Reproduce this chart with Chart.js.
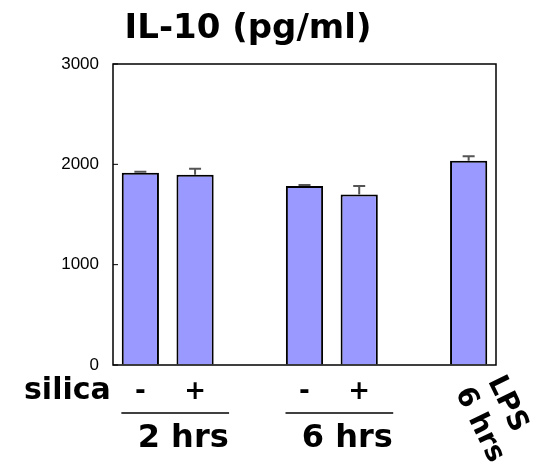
<!DOCTYPE html>
<html>
<head>
<meta charset="utf-8">
<script src="https://cdn.jsdelivr.net/npm/chart.js@4"></script>
<style>
  html, body { margin: 0; padding: 0; background: #fff; }
  #wrap { width: 550px; height: 465px; }
</style>
</head>
<body>
<div id="wrap"><canvas id="barChart1" width="550" height="465"></canvas></div>
<script>
// slots: 2 hrs (-,+), gap, 6 hrs (-,+), gap, LPS 6 hrs
const slots = ['2h-', '2h+', 'gap1', '6h-', '6h+', 'gap2', 'LPS'];
const silicaSigns = ['-', '+', '', '-', '+', '', ''];
const il10 = [1915, 1895, null, 1785, 1700, null, 2035];
const il10Err = [12, 60, null, 10, 85, null, 45];
const yTicks = [0, 1000, 2000, 3000];

const boldFont = '"DejaVu Sans", sans-serif';

const extras = {
  id: 'extras',
  afterDatasetsDraw(chart) {
    const { ctx, chartArea: a, scales: { x, y } } = chart;
    ctx.save();

    // error bars (upper only)
    ctx.strokeStyle = '#555';
    ctx.lineWidth = 2;
    il10.forEach((v, i) => {
      if (v == null) return;
      const px = x.getPixelForValue(i);
      const top = y.getPixelForValue(v + il10Err[i]);
      const base = y.getPixelForValue(v);
      ctx.beginPath();
      ctx.moveTo(px, base);
      ctx.lineTo(px, top);
      ctx.moveTo(px - 6, top);
      ctx.lineTo(px + 6, top);
      ctx.stroke();
    });

    // frame
    ctx.strokeStyle = '#000';
    ctx.lineWidth = 1.5;
    ctx.strokeRect(a.left, a.top, a.right - a.left, a.bottom - a.top);

    // inner y ticks
    ctx.lineWidth = 1;
    yTicks.forEach(t => {
      const py = y.getPixelForValue(t);
      ctx.beginPath();
      ctx.moveTo(a.left, py);
      ctx.lineTo(a.left + 5, py);
      ctx.stroke();
    });

    ctx.fillStyle = '#000';
    ctx.textBaseline = 'alphabetic';

    // title
    ctx.textAlign = 'center';
    ctx.font = 'bold 34px ' + boldFont;
    ctx.fillText('IL-10 (pg/ml)', 248, 38);

    // silica row
    ctx.font = 'bold 30px ' + boldFont;
    ctx.textAlign = 'left';
    ctx.fillText('silica', 24, 399);
    ctx.textAlign = 'center';
    ctx.font = 'bold 26px ' + boldFont;
    silicaSigns.forEach((s, i) => {
      if (!s) return;
      ctx.fillText(s, x.getPixelForValue(i), 399);
    });

    // group lines and labels
    const groups = [['2 hrs', 0, 1], ['6 hrs', 3, 4]];
    ctx.font = 'bold 32px ' + boldFont;
    ctx.lineWidth = 1.5;
    groups.forEach(([lab, i0, i1]) => {
      const l = x.getPixelForValue(i0) - 19;
      const r = x.getPixelForValue(i1) + 34;
      ctx.beginPath();
      ctx.moveTo(l, 413);
      ctx.lineTo(r, 413);
      ctx.stroke();
      ctx.fillText(lab, (l + r) / 2 + 8, 447);
    });

    // rotated LPS label
    ctx.translate(x.getPixelForValue(6) + 19, 381);
    ctx.rotate(64 * Math.PI / 180);
    ctx.textAlign = 'left';
    ctx.font = 'bold 28px ' + boldFont;
    ctx.fillText('LPS', 0, 0);
    ctx.fillText('6 hrs', -4, 34);

    ctx.restore();
  }
};

Chart.defaults.color = '#000';
window.il10Chart = new Chart(
  document.getElementById('barChart1'),
  {
    type: 'bar',
    data: {
      labels: slots,
      datasets: [
        {
          label: 'IL-10',
          data: il10,
          backgroundColor: '#9999ff',
          borderColor: '#000',
          borderWidth: 2,
          categoryPercentage: 1,
          barPercentage: 0.68
        }
      ]
    },
    options: {
      responsive: false,
      animation: false,
      layout: { padding: { left: 0, top: 64, right: 54, bottom: 100 } },
      plugins: {
        legend: { display: false },
        tooltip: { enabled: false }
      },
      scales: {
        x: {
          grid: { display: false },
          border: { display: false },
          ticks: { display: false },
          afterFit: (axis) => { axis.height = 0; }
        },
        y: {
          min: 0,
          max: 3000,
          afterFit: (axis) => { axis.width = 113; },
          afterBuildTicks: (axis) => { axis.ticks = yTicks.map(v => ({ value: v })); },
          grid: { drawOnChartArea: false, drawTicks: false },
          border: { display: false },
          ticks: {
            padding: 14,
            font: { family: '"Liberation Sans", Arial, sans-serif', size: 17 },
            color: '#000',
            callback: (v) => String(v)
          }
        }
      }
    },
    plugins: [extras]
  }
);
</script>
</body>
</html>
